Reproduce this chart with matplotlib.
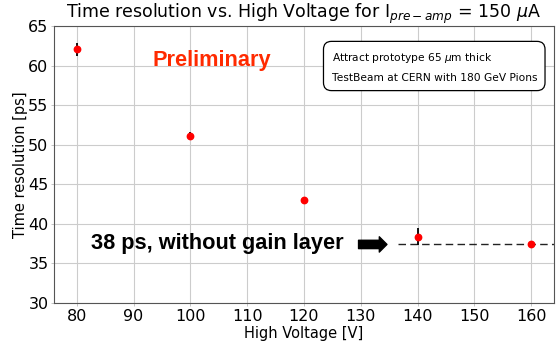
import matplotlib
matplotlib.use("Agg")
import matplotlib.pyplot as plt

voltage = [80, 100, 120, 140, 160]
resolution = [62.05, 51.1, 43.0, 38.4, 37.4]
errors = [0.85, 0.55, 0.4, 1.05, 0.3]
ref_level = 37.4
xticks = [80, 90, 100, 110, 120, 130, 140, 150, 160]
yticks = [30, 35, 40, 45, 50, 55, 60, 65]

fig = plt.figure(figsize=(5.58, 3.41), dpi=100)
ax = fig.add_axes([54/558, 1-303/341, (554-54)/558, (303-26)/341])

ax.errorbar(voltage, resolution, yerr=errors, fmt='o', color='red', ecolor='black',
            markersize=4.6, elinewidth=1.3, capsize=0, zorder=3)
ax.set_xlim(76, 164)
ax.set_ylim(30, 65)
ax.set_xticks(xticks)
ax.set_yticks(yticks)
ax.grid(True, color='#cccccc', linewidth=0.8)
ax.set_axisbelow(True)
ax.tick_params(labelsize=11.5, length=2, width=0.6, color='#bbbbbb', pad=2)
for s in ax.spines.values():
    s.set_color('#555555')

ax.plot([136.5, 164], [ref_level, ref_level], linestyle=(0, (5.4, 3.1)), color='#222222',
        linewidth=1.0)

ax.set_xlabel('High Voltage [V]', fontsize=10.5, labelpad=2)
ax.set_ylabel('Time resolution [ps]', fontsize=10.5, labelpad=0)
ax.set_title(r'Time resolution vs. High Voltage for I$_{pre-amp}$ = 150 $\mu$A',
             fontsize=12.5, pad=3)

ax.text(93.3, 60.7, 'Preliminary', color='#ff2a00', fontsize=15.7, fontweight='bold',
        family='Liberation Sans', va='center', ha='left')

ax.text(82.5, ref_level + 0.1, '38 ps, without gain layer', fontsize=15.7, fontweight='bold',
        family='Liberation Sans', va='center', ha='left')
ax.annotate('', xy=(134.6, ref_level), xytext=(129.6, ref_level),
            arrowprops=dict(arrowstyle='simple,head_length=0.55,head_width=1.1,tail_width=0.6',
                            color='black', shrinkA=0, shrinkB=0))

ax.text(0.555, 0.852, 'Attract prototype 65 $\\mu$m thick\nTestBeam at CERN with 180 GeV Pions',
        transform=ax.transAxes, fontsize=7.7, va='center', ha='left', linespacing=1.9,
        bbox=dict(boxstyle='round,pad=0.75', facecolor='white', edgecolor='black', linewidth=0.9))

fig.savefig('out.png', dpi=100)
